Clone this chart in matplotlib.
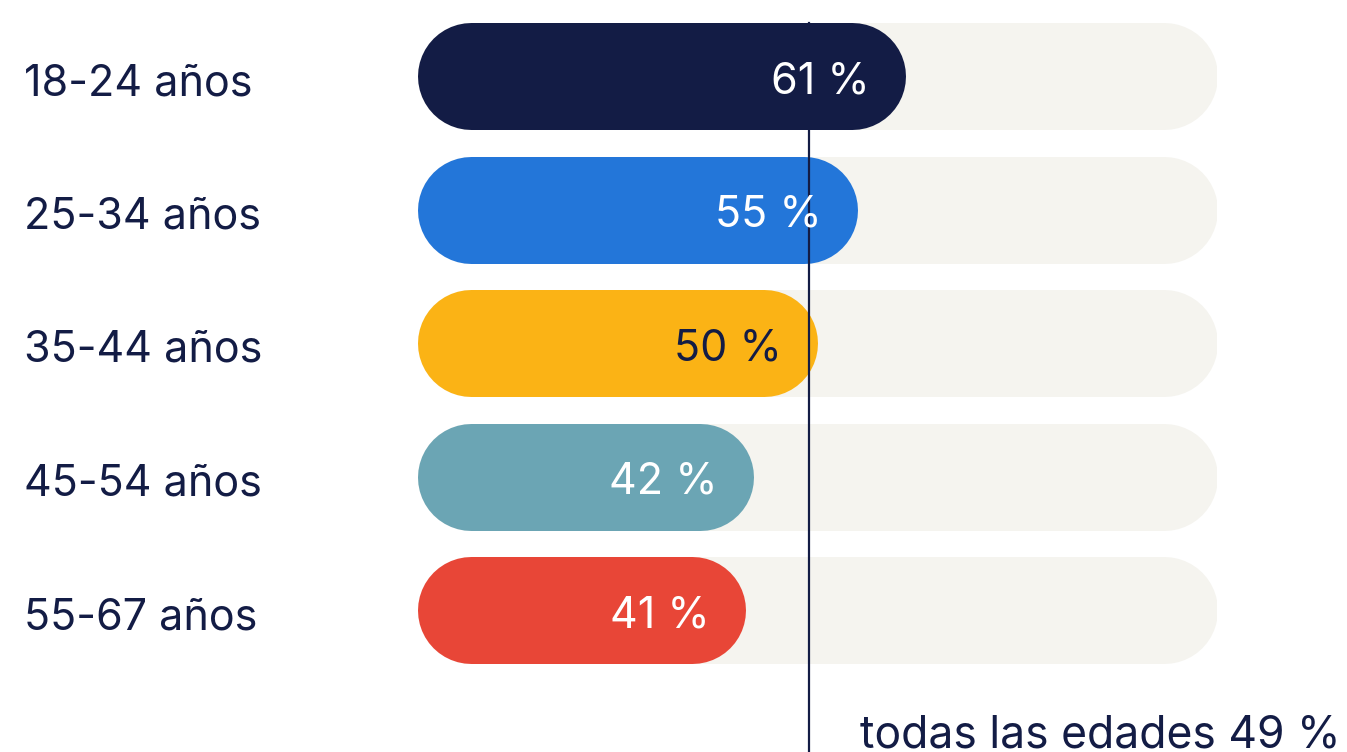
import matplotlib.pyplot as plt
import numpy as np

plt.rcParams['font.family'] = ['Inter', 'DejaVu Sans']

labels = ["18-24 años", "25-34 años", "35-44 años", "45-54 años", "55-67 años"]
values = [61, 55, 50, 42, 41]
colors = ["#131c45", "#2376d9", "#fbb315", "#6ba5b4", "#e84637"]
text_colors = ["white", "white", "#131c45", "white", "white"]
average = 49
average_label = "todas las edades 49 %"

navy = "#131c45"
track = "#f5f4ef"

W, H = 1347, 752
fig = plt.figure(figsize=(W / 100, H / 100), dpi=100)
# x axis: 0..100 % mapped onto pixel 417..1217
ax = fig.add_axes([417 / W, 0, 800 / W, 1])
ax.set_xlim(0, 100)
# bars centred at 76 px from top, 133.5 px apart
top = -76 / 133.5
bottom = (H - 76) / 133.5
ax.set_ylim(bottom, top)
ax.axis("off")

bar_px = 107
lw = bar_px * 72 / 100          # line width in points
cap = (bar_px / 2) / 8          # round cap length in % units (8 px per %)

y = np.arange(len(labels))
for i in range(len(labels)):
    ax.plot([cap, 100 - cap], [y[i], y[i]], color=track, lw=lw,
            solid_capstyle="round", zorder=1)
    ax.plot([cap, values[i] - cap], [y[i], y[i]], color=colors[i], lw=lw,
            solid_capstyle="round", zorder=2)
    ax.text(values[i] - 4.4, y[i] + 0.01, f"{values[i]} %", color=text_colors[i],
            fontsize=31, ha="right", va="center_baseline", zorder=4)
    fig.text(24 / W, 1 - (79 + 133.5 * i) / H, labels[i], color=navy,
             fontsize=31, ha="left", va="center_baseline")

# average line
ax.plot([average, average], [-53 / 133.5, bottom], color=navy, lw=1.6, zorder=3)
ax.text(average + 6.4, (747 - 76) / 133.5, average_label, color=navy,
        fontsize=32, ha="left", va="baseline")

fig.savefig("out.png", dpi=100)
